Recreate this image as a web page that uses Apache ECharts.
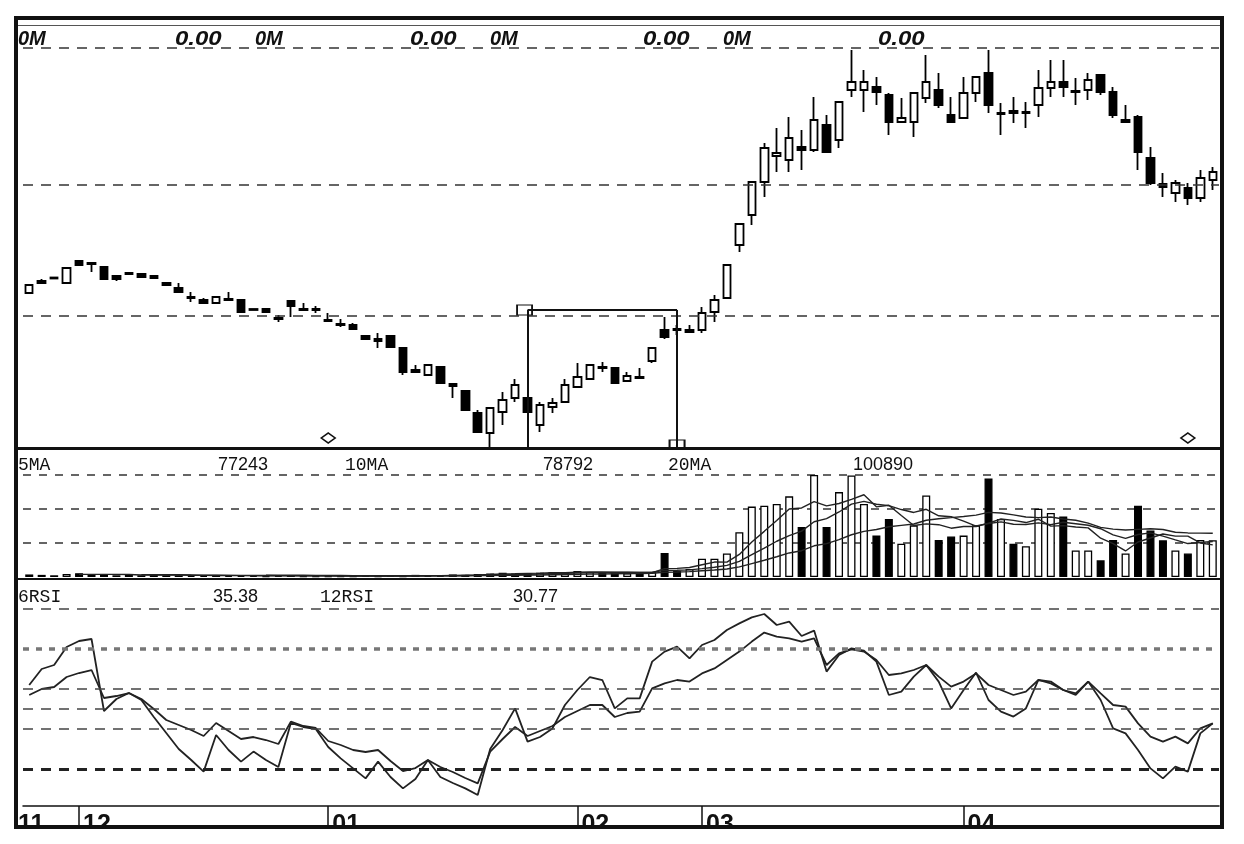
<!DOCTYPE html>
<html><head><meta charset="utf-8">
<script src="https://cdn.jsdelivr.net/npm/echarts@6/dist/echarts.min.js"></script>
<style>html,body{margin:0;padding:0;background:#fff}#c{width:1244px;height:844px}</style>
</head><body><div id="c"></div>
<script>
// candles: [open, close, low, high] in price units
const candles = [
[156,164,155,165],[168,166,166,170],[171.5,170.5,170.5,171.5],[166,181,166,181],[188,184,184,189],
[186,185,177,186],[182,170,170,182],[173,170,168,173],[175,176,174,177],[175,172,171,176],
[173,171,170,174],[166,164,163,167],[161,157,156,166],[152,151,147,157],[149,146,145,151],
[146,152,146,153],[150,149,149,157],[149,137,137,149],[140,139,139,140],[140,137,136,141],
[131,130,127,134],[148,143,132,149],[140,139,138,146],[140,139,136,143],[129,128,127,136],
[125,124,122,130],[124,120,119,126],[113,110,109,114],[110,108,101,116],[113,102,102,113],
[101,77,74,101],[79,77,76,84],[74,84,74,84],[82,66,66,82],[65,63,51,65],
[58,39,39,58],[36,17,17,39],[16,41,2,41],[37,49,24,57],[51,64,47,70],
[51,37,37,51],[24,44,17,47],[42,46,36,51],[47,64,46,70],[62,72,61,86],
[70,84,70,84],[82,81,77,87],[81,66,66,81],[68,73,67,77],[72,71,71,81],
[88,101,86,101],[119,112,110,132],[120,119,114,124],[117,119,116,124],[119,136,116,142],
[137,149,127,154],[151,184,151,184],[204,225,197,225],[234,267,224,267],[267,301,252,306],
[293,296,277,321],[289,311,277,332],[302,299,279,319],[299,329,297,352],[324,297,296,334],
[309,347,301,347],[359,367,352,399],[359,367,337,379],[362,357,344,372],[354,327,314,356],
[327,331,327,351],[327,356,312,357],[351,367,346,394],[359,344,341,376],[334,327,326,352],
[331,356,331,372],[356,372,347,372],[376,344,336,399],[335,336,314,346],[338,336,326,352],
[336,337,321,347],[344,361,332,379],[361,367,352,389],[367,362,352,389],[357,358,344,371],
[359,369,349,376],[374,357,354,374],[357,334,331,362],[327,329,327,344],[332,297,279,334],
[291,266,264,302],[265,262,252,276],[256,266,247,269],[261,251,244,266],[251,271,247,279],
[269,277,259,282]
];
// volume (thousands)
const volumes = [6,5,4,7,9,6,5,4,5,4,5,4,4,3,3,4,3,3,3,2,3,4,2,2,2,2,2,3,2,3,2,5,3,3,
6,5,7,8,10,8,9,10,12,10,14,12,10,11,9,10,12,56,14,19,43,43,55,105,165,167,171,189,117,239,117,199,
238,171,97,136,78,121,191,87,95,97,121,231,136,78,72,160,150,142,62,62,39,87,55,167,109,86,62,55,87,86];
const ma5 = ['-','-','-','-',6.2,6.2,6.2,6.2,5.8,4.8,4.6,4.4,4.4,4,3.8,3.6,3.4,3.2,3.2,3,2.8,3,2.8,2.6,2.6,2.4,2,2.2,2.2,2.4,
2.4,3,3,3.2,3.8,4.4,4.8,5.8,7.2,7.6,8.4,9,9.8,9.8,11,11.6,11.6,11.4,11.2,10.4,10.4,19.6,20.2,22.2,28.8,35,34.8,53,82.2,107,
132.6,159.4,161.8,176.6,166.6,172.2,182,192.8,164.4,168.2,144,120.6,124.6,122.6,114.4,118.2,118.2,126.2,136,132.6,127.6,135.4,
119.2,120.4,117.2,115.2,91,78.4,61,82,91.4,100.8,95.8,95.8,79.8,75.2];
const ma10 = ['-','-','-','-','-','-','-','-','-',5.5,5.4,5.3,5.3,4.9,4.3,4.1,3.9,3.8,3.6,3.4,3.2,3.2,3,2.9,2.8,2.6,2.5,2.5,2.4,2.5,
2.4,2.5,2.6,2.7,3.1,3.4,3.9,4.4,5.2,5.7,6.4,6.9,7.8,8.5,9.3,10,10.3,10.6,10.5,10.7,11,15.6,15.8,16.7,19.6,22.7,27.2,36.6,52.2,67.9,
83.8,97.1,107.4,129.4,136.8,152.4,170.7,177.3,170.5,167.4,158.1,151.3,158.7,143.5,141.3,131.1,119.4,125.4,129.3,123.5,122.9,126.8,
122.7,128.2,124.9,121.4,113.2,98.8,90.7,99.6,103.3,95.9,87.1,78.4,80.9,83.3];
const ma20 = ['-','-','-','-','-','-','-','-','-','-','-','-','-','-','-','-','-','-','-',4.5,4.3,4.3,4.2,3.9,3.6,3.4,3.2,3.2,3,3,
2.8,2.9,2.8,2.8,3,3,3.2,3.5,3.8,4.1,4.4,4.7,5.2,5.6,6.2,6.7,7.1,7.5,7.9,8.2,8.7,11.3,11.8,12.6,14.5,16.4,18.8,23.6,31.4,39.3,
47.4,56.4,61.6,73.1,78.2,87.6,99,107,111.4,117.7,121,124.2,133.1,136.5,139.1,141.8,145.1,151.4,149.9,145.5,140.5,139.1,
140.7,135.9,133.1,126.3,116.3,112.1,110,111.6,113.1,111.4,104.9,103.3,102.9,102.4];
const rsi6 = [62,70,72,81,84,85,49,55,58,54.5,46,38,30,24.5,18.7,37,29.5,23.7,28.7,24.5,
21,43,41,40,31,25.3,20.3,15.3,23.7,16,10.3,15,24.5,16,13,10.3,7,30,39.5,50.3,
33.7,36,40.3,52,59.5,66,64.5,50.3,55.3,55.3,73.7,78.7,81.2,75.3,82,84.5,89.5,92.8,95.8,97.5,
92,93.7,86.5,89.2,68.7,77,80.3,79.2,73.7,57,58.7,66.2,72,63.7,50.3,59.5,68.2,54.5,48.7,46.2,
50.3,64.5,63.7,59.5,57.8,63.7,54.5,40.3,37.8,29.5,20.3,15.3,21.2,18.7,37.8,42.8];
const rsi12 = [57,60,61,66,68,69.5,55.5,56.5,58,55,50,44.5,42,39.5,36.5,43,39,35,36,34.5,
32.5,43.7,41.5,40.5,34,32,29.5,28.5,29.5,24,19,20.5,24.5,21,18.5,15.5,12.8,28.7,35,41,
36.5,39,41.5,46,49,52,52,46,48,48.7,60.3,62.8,64.5,63.7,67.8,70.3,74.5,78.7,83.7,88.2,
86.2,85.3,83.7,85.3,72,77.8,79.8,78.7,74.5,67,67.8,69.5,72,66.2,61.2,63.7,67.8,62,59.5,57,
58.7,64.5,62.8,59.5,57,63.7,57.8,52,51.2,42.8,36.2,33.7,36.2,32.8,40.3,42.8];
const priceLevels = [133, 264, 401];
const rsiLevels = [100, 80, 60, 50, 40, 20];
const monthStarts = [0, 4, 24, 44, 54, 75];
const monthLabels = ['11', '12', '01', '02', '03', '04'];
const boxStart = 40, boxEnd = 52, boxTop = 139;
const signalDays = [24, 93];
const categories = candles.map((_, i) => String(i));

const chart = echarts.init(document.getElementById('c'), null, {renderer: 'canvas'});
const dash = {color: '#333', width: 1.5, type: [10, 8]};
const volData = volumes.map((v, i) => ({value: v, itemStyle: {color: candles[i][1] >= candles[i][0] ? '#fff' : '#000'}}));
const rsiStyle = lv => lv === 80 ? {color: '#777', width: 3.5, type: [6, 7]} :
  lv === 20 ? {color: '#222', width: 3, type: [10, 8]} : {color: '#444', width: 1.5, type: [10, 8]};
const G = {left: 23, width: 1196};
const hidden = {show: false};
function txt(text, x, y, font, sx) {
  return {type: 'text', x: x, y: y, scaleX: sx || 1, z: 110,
    style: {text: text, x: 0, y: 0, font: font, fill: '#111', textAlign: 'left', textVerticalAlign: 'middle'}};
}
const fHead = 'bold italic 20px "Liberation Sans"';
const fMono = '18px "Liberation Mono"';
const fNum = '18px "Liberation Sans"';
const dateCats = categories.map((c, i) => i === 0 ? {value: c, textStyle: {align: 'center'}} : c);

chart.setOption({
  animation: false,
  backgroundColor: '#fff',
  grid: [
    Object.assign({top: 20, height: 429}, G),
    Object.assign({top: 449, height: 128}, G),
    Object.assign({top: 580, height: 229}, G)
  ],
  xAxis: [
    {type: 'category', gridIndex: 0, data: categories, boundaryGap: true, axisLine: hidden, axisTick: hidden, axisLabel: hidden},
    {type: 'category', gridIndex: 1, data: categories, boundaryGap: true, axisLine: hidden, axisTick: hidden, axisLabel: hidden},
    {type: 'category', gridIndex: 2, data: dateCats, boundaryGap: true, position: 'bottom', offset: -3,
      axisLine: {show: true, lineStyle: {color: '#111', width: 1.5}},
      axisTick: {show: true, alignWithLabel: true, length: 20, interval: i => monthStarts.indexOf(i) > 0, lineStyle: {color: '#111', width: 1.5}},
      axisLabel: {show: true, interval: i => monthStarts.indexOf(i) >= 0, align: 'left', margin: 7, padding: [0, 0, 0, 4],
        formatter: (v, i) => monthLabels[monthStarts.indexOf(i)] || '', color: '#111', fontFamily: 'Liberation Sans', fontWeight: 'bold', fontSize: 25}}
  ],
  yAxis: [
    {type: 'value', gridIndex: 0, min: 0, max: 429, axisLine: hidden, axisTick: hidden, axisLabel: hidden, splitLine: hidden},
    {type: 'value', gridIndex: 1, min: 0, max: 300, interval: 80, axisLine: hidden, axisTick: hidden, axisLabel: hidden,
      splitLine: {show: true, showMinLine: false, showMaxLine: false, lineStyle: {color: '#333', width: 1.5, type: [8, 8]}}},
    {type: 'value', gridIndex: 2, min: 0, max: 114.5, axisLine: hidden, axisTick: hidden, axisLabel: hidden, splitLine: hidden}
  ],
  series: [
    {type: 'candlestick', xAxisIndex: 0, yAxisIndex: 0, data: candles, barWidth: 8,
      itemStyle: {color: '#fff', color0: '#000', borderColor: '#000', borderColor0: '#000', borderColorDoji: '#000', borderWidth: 1.8},
      markLine: {silent: true, symbol: ['none', 'none'], label: {show: false}, animation: false,
        data: priceLevels.map(v => ({yAxis: v, lineStyle: dash})).concat([
          [{coord: [String(boxStart), boxTop]}, {coord: [String(boxEnd), boxTop]}],
          [{coord: [String(boxStart), boxTop]}, {coord: [String(boxStart), 0]}],
          [{coord: [String(boxEnd), boxTop]}, {coord: [String(boxEnd), 0]}]
        ].map(seg => { seg[0].lineStyle = {color: '#111', width: 2, type: 'solid'}; return seg; }))},
      markPoint: {silent: true, label: {show: false}, animation: false,
        data: signalDays.map(d => ({coord: [String(d), 11], symbol: 'diamond', symbolSize: [14, 10],
          itemStyle: {color: '#fff', borderColor: '#111', borderWidth: 1.5}})).concat([
          {coord: [String(boxStart), boxTop], symbol: 'rect', symbolSize: [15, 10], symbolOffset: [-3, 0], itemStyle: {color: 'rgba(0,0,0,0)', borderColor: '#111', borderWidth: 1.5}},
          {coord: [String(boxEnd), 5], symbol: 'rect', symbolSize: [15, 8], itemStyle: {color: 'rgba(0,0,0,0)', borderColor: '#111', borderWidth: 1.5}}
        ])}},
    {type: 'bar', xAxisIndex: 1, yAxisIndex: 1, data: volData, barWidth: 8, itemStyle: {borderColor: '#000', borderWidth: 1.3}},
    {type: 'line', xAxisIndex: 1, yAxisIndex: 1, data: ma5, showSymbol: false, lineStyle: {color: '#222', width: 1.4}},
    {type: 'line', xAxisIndex: 1, yAxisIndex: 1, data: ma10, showSymbol: false, lineStyle: {color: '#222', width: 1.4}},
    {type: 'line', xAxisIndex: 1, yAxisIndex: 1, data: ma20, showSymbol: false, lineStyle: {color: '#222', width: 1.4}},
    {type: 'line', xAxisIndex: 2, yAxisIndex: 2, data: rsi6, showSymbol: false, lineStyle: {color: '#222', width: 1.8},
      markLine: {silent: true, symbol: ['none', 'none'], label: {show: false}, animation: false,
        data: rsiLevels.map(v => ({yAxis: v, lineStyle: rsiStyle(v)}))}},
    {type: 'line', xAxisIndex: 2, yAxisIndex: 2, data: rsi12, showSymbol: false, lineStyle: {color: '#222', width: 1.8}}
  ],
  graphic: [
    {type: 'rect', z: 99, shape: {x: 0, y: 827, width: 1244, height: 17}, style: {fill: '#fff'}},
    {type: 'rect', z: 100, shape: {x: 16, y: 18, width: 1206, height: 809}, style: {fill: 'none', stroke: '#111', lineWidth: 4}},
    {type: 'line', z: 100, shape: {x1: 18, y1: 25.5, x2: 1220, y2: 25.5}, style: {stroke: '#555', lineWidth: 1.2}},
    {type: 'line', z: 100, shape: {x1: 16, y1: 448.5, x2: 1222, y2: 448.5}, style: {stroke: '#111', lineWidth: 3}},
    {type: 'line', z: 100, shape: {x1: 16, y1: 579, x2: 1222, y2: 579}, style: {stroke: '#111', lineWidth: 2}},
    txt('0M', 18, 39, fHead), txt('0.00', 175, 39, fHead, 1.2),
    txt('0M', 255, 39, fHead), txt('0.00', 410, 39, fHead, 1.2),
    txt('0M', 490, 39, fHead), txt('0.00', 643, 39, fHead, 1.2),
    txt('0M', 723, 39, fHead), txt('0.00', 878, 39, fHead, 1.2),
    txt('5MA', 18, 465, fMono), txt('77243', 218, 465, fNum),
    txt('10MA', 345, 465, fMono), txt('78792', 543, 465, fNum),
    txt('20MA', 668, 465, fMono), txt('100890', 853, 465, fNum),
    txt('6RSI', 18, 597, fMono), txt('35.38', 213, 597, fNum),
    txt('12RSI', 320, 597, fMono), txt('30.77', 513, 597, fNum)
  ]
});
</script></body></html>
